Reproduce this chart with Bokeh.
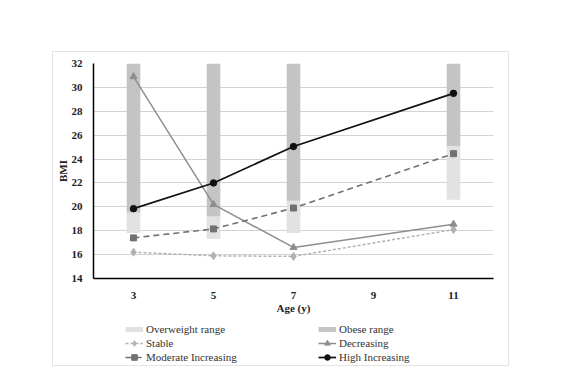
from bokeh.plotting import figure
from bokeh.layouts import column
from bokeh.models import FactorRange, Range1d, Legend, LegendItem, FixedTicker, InlineStyleSheet
from bokeh.embed import file_html
from bokeh.resources import INLINE

# ---- data ----
ages = ["3", "5", "7", "9", "11"]
range_ages = ["3", "5", "7", "11"]
overweight_cut = [17.8, 17.3, 17.8, 20.6]
obese_cut = [19.5, 19.2, 20.5, 25.1]
bmi_top = [32, 32, 32, 32]

line_ages = ["3", "5", "7", "11"]
stable = [16.2, 15.9, 15.85, 18.1]
decreasing = [30.9, 20.2, 16.6, 18.55]
moderate = [17.4, 18.15, 19.9, 24.45]
high = [19.85, 22.0, 25.05, 29.5]

y_ticks = [14, 16, 18, 20, 22, 24, 26, 28, 30, 32]

SERIF = "Liberation Serif"
C_OW, C_OB = "#e2e2e2", "#c4c4c4"
C_ST, C_DE, C_MO, C_HI = "#b2b2b2", "#8e8e8e", "#717171", "#111111"

STYLES = {
    "Stable": dict(color=C_ST, dash="3 2", marker="diamond", size=8, lw=1.5),
    "Decreasing": dict(color=C_DE, dash="solid", marker="triangle", size=7, lw=1.5),
    "Moderate Increasing": dict(color=C_MO, dash="6 4", marker="square", size=6, lw=1.6),
    "High Increasing": dict(color=C_HI, dash="solid", marker="circle", size=6.5, lw=1.7),
}
SERIES = {"Stable": stable, "Decreasing": decreasing,
          "Moderate Increasing": moderate, "High Increasing": high}

# ---------------- main chart ----------------
p = figure(
    x_range=FactorRange(*ages, range_padding=0),
    y_range=Range1d(14, 32),
    width=455, height=266,
    output_backend="svg", toolbar_location=None,
    min_border_left=40, min_border_right=15,
    min_border_top=11, min_border_bottom=40,
)
p.outline_line_color = None
p.background_fill_color = "white"
p.border_fill_color = "white"

p.vbar(x=range_ages, bottom=overweight_cut, top=obese_cut, width=0.17,
       fill_color=C_OW, line_color=None)
p.vbar(x=range_ages, bottom=obese_cut, top=bmi_top, width=0.17,
       fill_color=C_OB, line_color=None)

for name, vals in SERIES.items():
    s = STYLES[name]
    p.line(line_ages, vals, line_color=s["color"], line_width=s["lw"], line_dash=s["dash"])
    p.scatter(line_ages, vals, marker=s["marker"], size=s["size"],
              fill_color=s["color"], line_color=s["color"])

p.yaxis.ticker = FixedTicker(ticks=y_ticks)
p.yaxis.axis_label = "BMI"
p.xaxis.axis_label = "Age (y)"
for ax in (p.xaxis, p.yaxis):
    ax.axis_line_color = "black"
    ax.axis_line_width = 1.5
    ax.major_tick_line_color = None
    ax.minor_tick_line_color = None
    ax.major_label_text_font = SERIF
    ax.major_label_text_font_style = "bold"
    ax.major_label_text_font_size = "11px"
    ax.major_label_text_color = "#222222"
    ax.axis_label_text_font = SERIF
    ax.axis_label_text_font_style = "bold"
    ax.axis_label_text_font_size = "11px"
    ax.axis_label_text_color = "#222222"
p.yaxis.major_label_standoff = 5
p.yaxis.axis_label_standoff = 0
p.xaxis.major_label_standoff = 7
p.xaxis.axis_label_standoff = 0

p.xgrid.visible = False
p.ygrid.grid_line_color = "#d2d2d2"
p.ygrid.grid_line_width = 1

# ---------------- legend strip ----------------
lf = figure(
    x_range=Range1d(0, 1), y_range=Range1d(0, 1),
    width=455, height=47, output_backend="svg", toolbar_location=None,
    x_axis_type=None, y_axis_type=None,
    min_border_left=0, min_border_right=0, min_border_top=0, min_border_bottom=0,
)
lf.outline_line_color = None
lf.xgrid.visible = False
lf.ygrid.visible = False
lf.background_fill_color = "white"
lf.border_fill_color = "white"

nan = float("nan")
key = {}
key["Overweight range"] = [lf.line([nan], [nan], line_color=C_OW, line_width=5)]
key["Obese range"] = [lf.line([nan], [nan], line_color=C_OB, line_width=5)]
for name in SERIES:
    s = STYLES[name]
    key[name] = [
        lf.line([nan], [nan], line_color=s["color"], line_width=s["lw"], line_dash=s["dash"]),
        lf.scatter([nan], [nan], marker=s["marker"], size=s["size"],
                   fill_color=s["color"], line_color=s["color"]),
    ]


def make_legend(names, x):
    lg = Legend(items=[LegendItem(label=n, renderers=key[n]) for n in names],
                location=(x, 1), orientation="vertical")
    lg.label_text_font = SERIF
    lg.label_text_font_size = "11px"
    lg.label_text_color = "#333333"
    lg.glyph_width = 18
    lg.glyph_height = 14
    lg.label_height = 14
    lg.label_standoff = 3
    lg.spacing = 0
    lg.padding = 0
    lg.margin = 0
    lg.border_line_color = None
    lg.background_fill_alpha = 0
    return lg


lf.add_layout(make_legend(["Overweight range", "Stable", "Moderate Increasing"], 32), "center")
lf.add_layout(make_legend(["Obese range", "Decreasing", "High Increasing"], 225), "center")

layout = column(p, lf, spacing=0)
layout.margin = (52, 0, 0, 53)
layout.stylesheets = [InlineStyleSheet(css=":host { outline: 1px solid #e4e4e4; outline-offset: 0px; }")]

open("out.html", "w").write(file_html(layout, INLINE))
